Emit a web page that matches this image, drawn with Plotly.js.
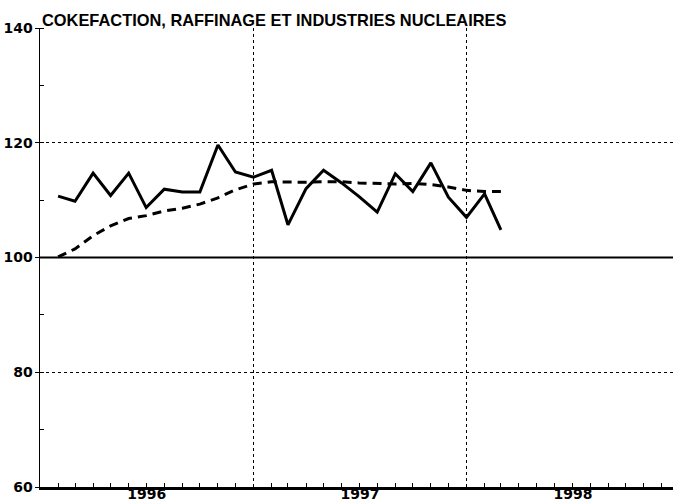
<!DOCTYPE html>
<html>
<head>
<meta charset="utf-8">
<script src="https://cdn.plot.ly/plotly-3.0.1.min.js"></script>
<style>html,body{margin:0;padding:0;background:#fff;}#chart{width:673px;height:502px;}</style>
</head>
<body>
<div id="chart"></div>
<script>
// Monthly observation dates (end of month)
const dates = [
  '1996-02-01','1996-03-01','1996-04-01','1996-05-01','1996-06-01','1996-07-01',
  '1996-08-01','1996-09-01','1996-10-01','1996-11-01','1996-12-01','1997-01-01',
  '1997-02-01','1997-03-01','1997-04-01','1997-05-01','1997-06-01','1997-07-01',
  '1997-08-01','1997-09-01','1997-10-01','1997-11-01','1997-12-01','1998-01-01',
  '1998-02-01','1998-03-01'
];
// Raw index (solid line)
const indexValues = [
  110.7, 109.8, 114.7, 110.8, 114.7, 108.7, 111.9, 111.4, 111.4, 119.6, 114.9, 114.0,
  115.2, 105.7, 112.0, 115.2, 113.0, 110.6, 107.9, 114.6, 111.5, 116.5, 110.5, 107.0,
  111.1, 104.8
];
// Trend (dashed line)
const trendValues = [
  100.1, 101.5, 103.8, 105.5, 106.8, 107.3, 108.1, 108.6, 109.3, 110.4, 111.8, 112.8,
  113.2, 113.1, 113.1, 113.2, 113.2, 113.0, 112.9, 112.8, 112.9, 112.7, 112.3, 111.7,
  111.5, 111.5
];
const yTicks = [60, 80, 100, 120, 140];
const baseLevel = 100;
const chartTitle = '<b>COKEFACTION, RAFFINAGE ET INDUSTRIES NUCLEAIRES</b>';

const FONT = 'Liberation Sans, Arial, sans-serif';
const TICKFONT = 'DejaVu Sans, Liberation Sans, sans-serif';

const traces = [
  {x: dates, y: indexValues, type: 'scatter', mode: 'lines',
   line: {color: '#000', width: 3}, hoverinfo: 'skip'},
  {x: dates, y: trendValues, type: 'scatter', mode: 'lines',
   line: {color: '#000', width: 3, dash: '9px,6px'}, hoverinfo: 'skip'}
];

const layout = {
  width: 673, height: 502,
  margin: {l: 40, r: 0, t: 28, b: 15, pad: 0},
  paper_bgcolor: '#fff', plot_bgcolor: '#fff',
  showlegend: false,
  font: {family: FONT, size: 14, color: '#000'},
  title: {text: chartTitle, x: 42/673, xanchor: 'left', xref: 'container',
          y: 1 - 20/502, yanchor: 'middle', yref: 'container',
          font: {family: FONT, size: 16.4, color: '#000'}},
  xaxis: {
    type: 'date', range: ['1996-01-01', '1998-12-21'],
    tick0: '1996-01-01', dtick: 'M12', ticklabelmode: 'period', tickformat: '%Y',
    ticks: '', showgrid: true, griddash: 'dot', gridcolor: '#000', gridwidth: 1,
    showline: true, linecolor: '#000', linewidth: 2.5,
    tickfont: {family: TICKFONT, size: 14, color: '#000', weight: 'bold'},
    ticklabelstandoff: -7,
    minor: {dtick: 'M1', ticks: 'inside', ticklen: 4, tickwidth: 1, tickcolor: '#000', showgrid: false},
    zeroline: false, fixedrange: true
  },
  yaxis: {
    range: [60, 140], tickvals: yTicks, ticktext: yTicks.map(String),
    ticks: 'outside', ticklen: 4, tickwidth: 1, tickcolor: '#000',
    showgrid: true, griddash: 'dot', gridcolor: '#000', gridwidth: 1,
    showline: true, linecolor: '#000', linewidth: 1.5,
    tickfont: {family: TICKFONT, size: 14, color: '#000', weight: 'bold'},
    ticklabelstandoff: -1,
    minor: {dtick: 10, ticks: 'inside', ticklen: 4, tickwidth: 1, tickcolor: '#000', showgrid: false},
    zeroline: false, fixedrange: true
  },
  shapes: [
    {type: 'line', xref: 'paper', x0: 0, x1: 1, yref: 'y', y0: baseLevel, y1: baseLevel,
     line: {color: '#000', width: 2}, layer: 'below'}
  ]
};

Plotly.newPlot('chart', traces, layout, {staticPlot: true, displayModeBar: false});
</script>
</body>
</html>
